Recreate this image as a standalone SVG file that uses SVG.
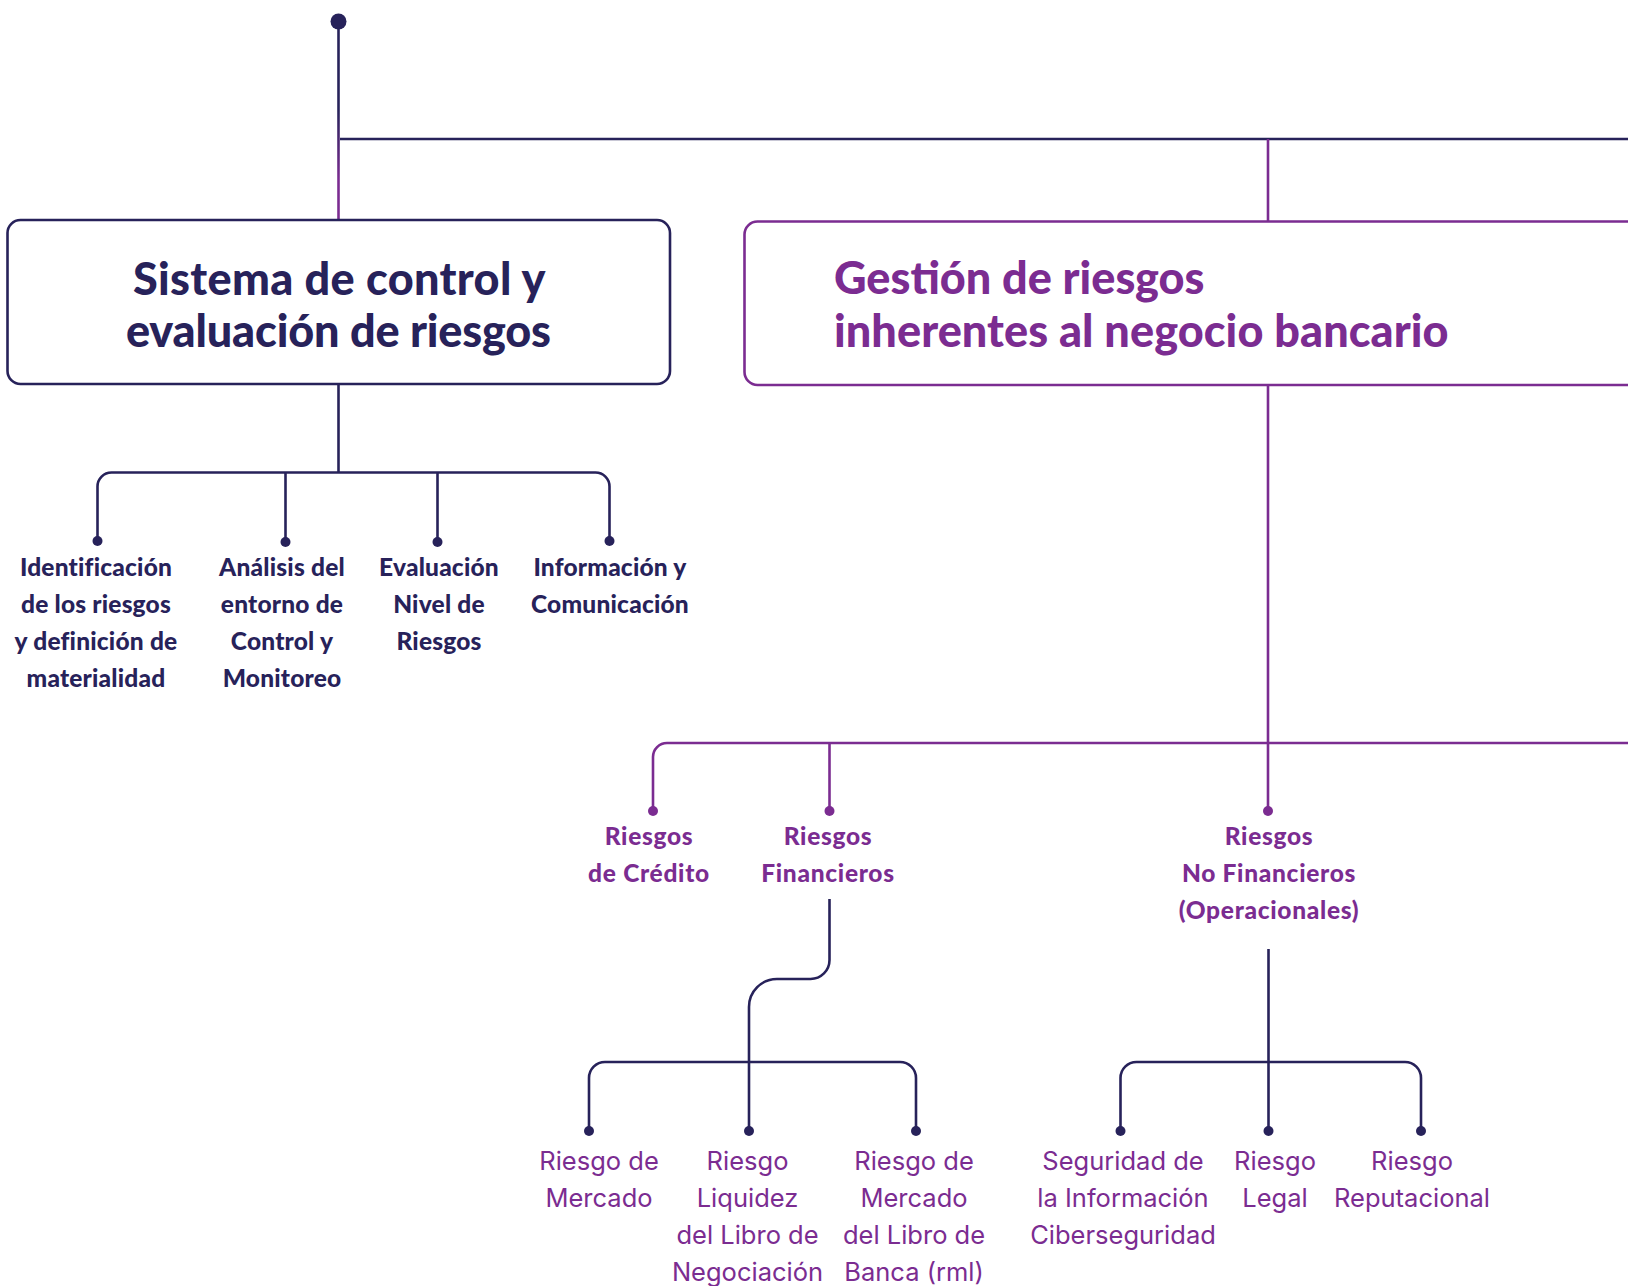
<svg xmlns="http://www.w3.org/2000/svg" width="1628" height="1286" viewBox="0 0 1628 1286">
<defs>
<style>
.nv{stroke:#27225A;fill:none;stroke-width:2.6}
.pp{stroke:#7B2C91;fill:none;stroke-width:2.6}
.dn{fill:#27225A}
.dp{fill:#7B2C91}
.title{font-family:Lato,"Liberation Sans",sans-serif;font-weight:900;font-size:45px}
.bl{font-family:Lato,"Liberation Sans",sans-serif;font-weight:900;font-size:24.5px;text-anchor:middle;letter-spacing:0.2px}
.bp{font-family:Lato,"Liberation Sans",sans-serif;font-weight:900;font-size:24.5px;text-anchor:middle;letter-spacing:0.7px}
.rl{font-family:Inter,"Liberation Sans",sans-serif;font-weight:400;font-size:25.5px;text-anchor:middle;fill:#7B2C91}
.tn{fill:#27225A}
.tp{fill:#7B2C91}
</style>
<linearGradient id="gTop" gradientUnits="userSpaceOnUse" x1="0" y1="110" x2="0" y2="180">
<stop offset="0" stop-color="#27225A"/>
<stop offset="1" stop-color="#7B2C91"/>
</linearGradient>
</defs>
<rect width="1628" height="1286" fill="#FFFFFF"/>
<g id="connectors">
<path d="M338.5 21.5 V220" fill="none" stroke="url(#gTop)" stroke-width="2.6"/>
<path class="nv" d="M340 139 H1640"/>
<path class="pp" d="M1268 139 V221"/>
<path class="nv" d="M338.5 384 V472.5"/>
<path class="nv" d="M97.5 541 V486.5 A14 14 0 0 1 111.5 472.5 H595.5 A14 14 0 0 1 609.5 486.5 V541"/>
<path class="nv" d="M285.5 472.5 V541 M437.5 472.5 V541"/>
<path class="pp" d="M1268 385 V811"/>
<path class="pp" d="M653 811 V757 A14 14 0 0 1 667 743 H1640"/>
<path class="pp" d="M829.5 743 V811"/>
<path class="nv" d="M829.5 899 V960 A19 19 0 0 1 810.5 979 H777 A28 28 0 0 0 749 1007 V1131"/>
<path class="nv" d="M589 1131 V1078 A16 16 0 0 1 605 1062 H900 A16 16 0 0 1 916 1078 V1131"/>
<path class="nv" d="M1268.5 949 V1131"/>
<path class="nv" d="M1120.5 1131 V1078 A16 16 0 0 1 1136.5 1062 H1405 A16 16 0 0 1 1421 1078 V1131"/>
<circle class="dn" cx="338.5" cy="21.5" r="8"/>
<circle class="dn" cx="97.5" cy="541" r="5"/>
<circle class="dn" cx="285.5" cy="542" r="5"/>
<circle class="dn" cx="437.5" cy="542" r="5"/>
<circle class="dn" cx="609.5" cy="541" r="5"/>
<circle class="dp" cx="653" cy="811" r="5"/>
<circle class="dp" cx="829.5" cy="811" r="5"/>
<circle class="dp" cx="1268" cy="811" r="5"/>
<circle class="dn" cx="589" cy="1131" r="5"/>
<circle class="dn" cx="749" cy="1131" r="5"/>
<circle class="dn" cx="916" cy="1131" r="5"/>
<circle class="dn" cx="1120.5" cy="1131" r="5"/>
<circle class="dn" cx="1268.5" cy="1131" r="5"/>
<circle class="dn" cx="1421" cy="1131" r="5"/>
</g>
<g id="sistema">
<rect x="7.5" y="220" width="662.5" height="164" rx="13" class="nv"/>
<text class="title tn"><tspan x="133" y="295" textLength="412.5" lengthAdjust="spacing">Sistema de control y</tspan><tspan x="126" y="347" textLength="425" lengthAdjust="spacing">evaluación de riesgos</tspan></text>
</g>
<g id="gestion">
<rect x="744.5" y="221.5" width="920" height="163.5" rx="13" class="pp"/>
<text class="title tp"><tspan x="834" y="294" textLength="370.5" lengthAdjust="spacing">Gestión de riesgos</tspan><tspan x="834" y="347" textLength="614.5" lengthAdjust="spacing">inherentes al negocio bancario</tspan></text>
</g>
<g id="identificacion">
<text class="bl tn"><tspan x="96" y="576">Identificación</tspan><tspan x="96" y="613">de los riesgos</tspan><tspan x="96" y="650">y definición de</tspan><tspan x="96" y="687">materialidad</tspan></text>
</g>
<g id="analisis">
<text class="bl tn"><tspan x="282" y="576">Análisis del</tspan><tspan x="282" y="613">entorno de</tspan><tspan x="282" y="650">Control y</tspan><tspan x="282" y="687">Monitoreo</tspan></text>
</g>
<g id="evaluacion">
<text class="bl tn"><tspan x="439" y="576">Evaluación</tspan><tspan x="439" y="613">Nivel de</tspan><tspan x="439" y="650">Riesgos</tspan></text>
</g>
<g id="informacion">
<text class="bl tn"><tspan x="610" y="576">Información y</tspan><tspan x="610" y="613">Comunicación</tspan></text>
</g>
<g id="credito">
<text class="bp tp"><tspan x="649" y="845">Riesgos</tspan><tspan x="649" y="881.5">de Crédito</tspan></text>
</g>
<g id="financieros">
<text class="bp tp"><tspan x="828" y="845">Riesgos</tspan><tspan x="828" y="881.5">Financieros</tspan></text>
</g>
<g id="nofinancieros">
<text class="bp tp"><tspan x="1269" y="845">Riesgos</tspan><tspan x="1269" y="881.5">No Financieros</tspan><tspan x="1269" y="919">(Operacionales)</tspan></text>
</g>
<g id="mercado">
<text class="rl"><tspan x="599" y="1170">Riesgo de</tspan><tspan x="599" y="1206.5">Mercado</tspan></text>
</g>
<g id="liquidez">
<text class="rl"><tspan x="747.5" y="1170">Riesgo</tspan><tspan x="747.5" y="1206.5">Liquidez</tspan><tspan x="747.5" y="1243.5">del Libro de</tspan><tspan x="747.5" y="1280.5">Negociación</tspan></text>
</g>
<g id="banca">
<text class="rl"><tspan x="914" y="1170">Riesgo de</tspan><tspan x="914" y="1206.5">Mercado</tspan><tspan x="914" y="1243.5">del Libro de</tspan><tspan x="914" y="1280.5">Banca (rml)</tspan></text>
</g>
<g id="seguridad">
<text class="rl"><tspan x="1123" y="1170">Seguridad de</tspan><tspan x="1123" y="1206.5">la Información</tspan><tspan x="1123" y="1243.5">Ciberseguridad</tspan></text>
</g>
<g id="legal">
<text class="rl"><tspan x="1275" y="1170">Riesgo</tspan><tspan x="1275" y="1206.5">Legal</tspan></text>
</g>
<g id="reputacional">
<text class="rl"><tspan x="1412" y="1170">Riesgo</tspan><tspan x="1412" y="1206.5">Reputacional</tspan></text>
</g>
</svg>
